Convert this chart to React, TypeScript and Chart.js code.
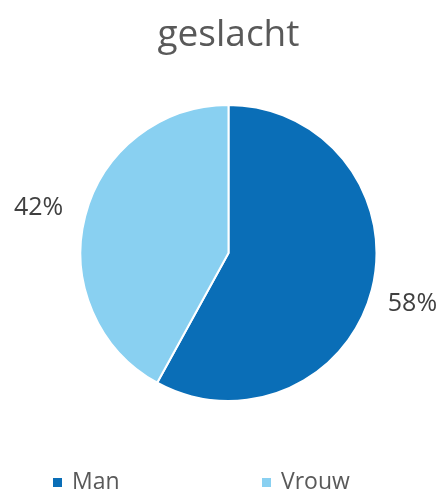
import React, { useEffect, useRef } from "react";
import { Chart, registerables } from "chart.js";

Chart.register(...registerables);

const TITLE = "geslacht";
const categories = ["Man", "Vrouw"];
const shares = [58, 42];
const colors = ["#0A6EB7", "#89D0F1"];

const FONT = "'Open Sans', 'Noto Sans', sans-serif";

const labelsPlugin = {
  id: "outsideLabels",
  afterDatasetsDraw(chart: any) {
    const { ctx } = chart;
    const meta = chart.getDatasetMeta(0);
    ctx.save();
    ctx.font = `25px ${FONT}`;
    ctx.fillStyle = "#404040";
    ctx.textAlign = "center";
    ctx.textBaseline = "middle";
    meta.data.forEach((arc: any, i: number) => {
      const mid = (arc.startAngle + arc.endAngle) / 2;
      const r = arc.outerRadius + 45;
      const x = arc.x + Math.cos(mid) * r - 3;
      const y = arc.y + Math.sin(mid) * r + 3;
      ctx.fillText(`${shares[i]}%`, x, y);
    });
    ctx.restore();
  },
};

const legendPlugin = {
  id: "bottomLegend",
  afterDraw(chart: any) {
    const { ctx } = chart;
    const xs = [53, 262];
    const y = 482;
    ctx.save();
    ctx.font = `23px ${FONT}`;
    ctx.textBaseline = "middle";
    ctx.textAlign = "left";
    chart.data.labels.forEach((lab: string, i: number) => {
      ctx.fillStyle = colors[i];
      ctx.fillRect(xs[i], y - 4, 9, 9);
      ctx.fillStyle = "#595959";
      ctx.fillText(lab, xs[i] + 19, y);
    });
    ctx.restore();
  },
};

export default function App() {
  const ref = useRef<HTMLCanvasElement | null>(null);
  useEffect(() => {
    if (!ref.current) return;
    const chart = new Chart(ref.current, {
      type: "pie",
      data: {
        labels: categories,
        datasets: [
          {
            data: shares,
            backgroundColor: colors,
            borderColor: "#ffffff",
            borderWidth: 2,
          },
        ],
      },
      options: {
        animation: false,
        responsive: false,
        devicePixelRatio: 1,
        layout: { padding: { left: 79, right: 63, top: 0, bottom: 91 } },
        plugins: {
          legend: { display: false },
          tooltip: { enabled: false },
          title: {
            display: true,
            text: TITLE,
            color: "#595959",
            font: { family: FONT, size: 37, weight: "normal" },
            padding: { top: 13, bottom: 46.6 },
          },
        },
      },
      plugins: [labelsPlugin, legendPlugin],
    });
    return () => chart.destroy();
  }, []);
  return (
    <div style={{ position: "fixed", left: 0, top: 0, width: 441, height: 493, background: "#fff" }}>
      <canvas ref={ref} width={441} height={493} style={{ width: 441, height: 493 }} />
    </div>
  );
}
